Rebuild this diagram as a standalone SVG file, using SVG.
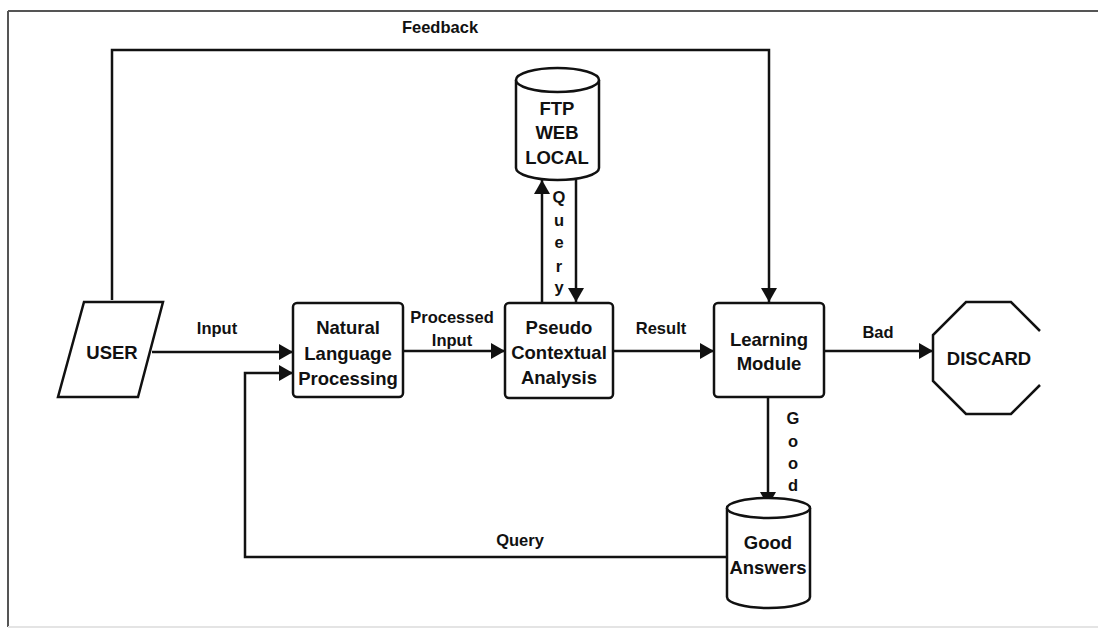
<svg xmlns="http://www.w3.org/2000/svg" width="1098" height="631" viewBox="0 0 1098 631">
<style>
.ln{fill:none;stroke:#111;stroke-width:2.5}
.bx{fill:#fff;stroke:#111;stroke-width:2.5}
.nt{font-family:"Liberation Sans",Arial,sans-serif;font-weight:bold;font-size:18.5px;fill:#111;text-anchor:middle}
.lt{font-family:"Liberation Sans",Arial,sans-serif;font-weight:bold;font-size:16.5px;fill:#111;text-anchor:middle}
</style>
<defs>
<marker id="ah" markerUnits="userSpaceOnUse" markerWidth="14" markerHeight="16" viewBox="0 0 14 16" refX="14" refY="8" orient="auto">
<path d="M0,0 L14,8 L0,16 Z" fill="#111"/>
</marker>
</defs>
<rect width="1098" height="631" fill="#fff"/>
<g id="frame">
<line x1="8" y1="11" x2="1098" y2="11" stroke="#555" stroke-width="2"/>
<line x1="8" y1="11" x2="8" y2="627" stroke="#555" stroke-width="2"/>
<line x1="8" y1="627" x2="1098" y2="627" stroke="#e4e4e4" stroke-width="2"/>
</g>
<g id="connectors">
<path class="ln" d="M112,300 V50 H769 V302" marker-end="url(#ah)"/>
<path class="ln" d="M152,352 H293" marker-end="url(#ah)"/>
<path class="ln" d="M727,557 H245 V373 H293" marker-end="url(#ah)"/>
<path class="ln" d="M403,351 H505" marker-end="url(#ah)"/>
<path class="ln" d="M613,351 H714" marker-end="url(#ah)"/>
<path class="ln" d="M824,351 H933" marker-end="url(#ah)"/>
<path class="ln" d="M542,303 V180" marker-end="url(#ah)"/>
<path class="ln" d="M576,180 V302" marker-end="url(#ah)"/>
<path class="ln" d="M768,397 V506" marker-end="url(#ah)"/>
<text class="lt" x="440" y="33">Feedback</text>
<text class="lt" x="217" y="334">Input</text>
<text class="lt" x="452" y="323">Processed</text>
<text class="lt" x="452" y="346">Input</text>
<text class="lt" x="661" y="334">Result</text>
<text class="lt" x="878" y="338">Bad</text>
<text class="lt" x="520" y="546">Query</text>
<text class="lt" x="559" y="203">Q</text>
<text class="lt" x="559" y="226">u</text>
<text class="lt" x="559" y="248">e</text>
<text class="lt" x="559" y="272">r</text>
<text class="lt" x="559" y="293">y</text>
<text class="lt" x="793" y="424">G</text>
<text class="lt" x="793" y="447">o</text>
<text class="lt" x="793" y="469">o</text>
<text class="lt" x="793" y="491">d</text>
</g>
<g id="user">
<polygon class="bx" points="84,302 163,302 138,397 58,397"/>
<text class="nt" x="112" y="359">USER</text>
</g>
<g id="nlp">
<rect class="bx" x="293" y="303" width="110" height="94" rx="4"/>
<text class="nt" x="348" y="334">Natural</text>
<text class="nt" x="348" y="360">Language</text>
<text class="nt" x="348" y="385">Processing</text>
</g>
<g id="pca">
<rect class="bx" x="505" y="303" width="108" height="95" rx="4"/>
<text class="nt" x="559" y="334">Pseudo</text>
<text class="nt" x="559" y="359">Contextual</text>
<text class="nt" x="559" y="384">Analysis</text>
</g>
<g id="ftp">
<path class="bx" d="M516,80 V168 A41.5,12 0 0 0 599,168 V80"/>
<ellipse class="bx" cx="557.5" cy="80" rx="41.5" ry="12"/>
<text class="nt" x="557" y="115">FTP</text>
<text class="nt" x="557" y="139">WEB</text>
<text class="nt" x="557" y="164">LOCAL</text>
</g>
<g id="learning">
<rect class="bx" x="714" y="303" width="110" height="94" rx="4"/>
<text class="nt" x="769" y="346">Learning</text>
<text class="nt" x="769" y="370">Module</text>
</g>
<g id="discard">
<path class="bx" d="M1040,331 L1011,302 H966 L933,335 V381 L966,414 H1011 L1040,385"/>
<text class="nt" x="989" y="365">DISCARD</text>
</g>
<g id="good">
<path class="bx" d="M727,508 V597 A41.5,11 0 0 0 810,597 V508"/>
<ellipse class="bx" cx="768.5" cy="508" rx="41.5" ry="10"/>
<text class="nt" x="768" y="549">Good</text>
<text class="nt" x="768" y="574">Answers</text>
</g>
</svg>
